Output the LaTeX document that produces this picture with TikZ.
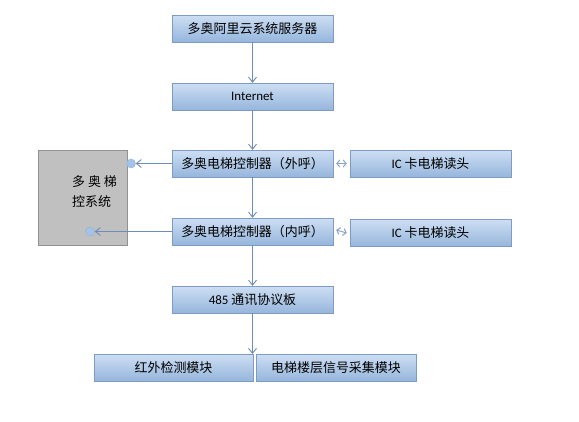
\documentclass[tikz,border=0pt]{standalone}
\usepackage{fontspec}
\setmainfont{Carlito}
\newfontfamily\cjk{Noto Sans CJK SC}
\usetikzlibrary{arrows.meta}
\definecolor{boxtop}{RGB}{205,222,243}
\definecolor{boxbot}{RGB}{150,182,220}
\definecolor{boxline}{RGB}{125,155,195}
\definecolor{arrline}{RGB}{110,140,185}
\definecolor{grayfill}{RGB}{192,192,192}
\definecolor{grayline}{RGB}{145,145,145}
\definecolor{dotfill}{RGB}{165,195,232}
\tikzset{
  blbox/.style={draw=boxline, top color=boxtop, bottom color=boxbot, minimum width=161bp, minimum height=27bp, inner sep=0pt, font=\fontsize{13}{15}\selectfont, text=black},
  arr/.style={draw=arrline, line width=0.9bp, -{Straight Barb[length=5bp,width=8bp,line width=0.9bp]}},
  darr/.style={draw=arrline!80, line width=1bp, {Straight Barb[length=3bp,width=7bp]}-{Straight Barb[length=3bp,width=7bp]}},
  dot/.style={circle, draw=arrline!70, fill=dotfill, minimum size=9bp, inner sep=0pt}
}
\begin{document}
\begin{tikzpicture}[x=1bp,y=-1bp]
\useasboundingbox[fill=white] (0,0) rectangle (579,421);
\node[blbox] (srv) at (252.5,28.5) {\cjk 多奥阿里云系统服务器};
\node[blbox] (inet) at (252.5,96.5) {Internet};
\node[blbox] (c1) at (252.5,163.5) {\cjk 多奥电梯控制器（外呼）};
\node[blbox] (ic1) at (430.5,163.5) {IC {\cjk 卡电梯读头}};
\node[blbox] (c2) at (252.5,231.5) {\cjk 多奥电梯控制器（内呼）};
\node[blbox] (ic2) at (430.5,233) {IC {\cjk 卡电梯读头}};
\node[blbox] (p485) at (252.5,299.5) {485 {\cjk 通讯协议板}};
\node[blbox, minimum width=159bp] (ir) at (173.5,367.5) {\cjk 红外检测模块};
\node[blbox, minimum width=160bp] (fl) at (336,367.5) {\cjk 电梯楼层信号采集模块};
\node[draw=grayline, fill=grayfill, minimum width=89bp, minimum height=95bp, inner sep=0pt] (sys) at (82.5,197.5) {};
\node[anchor=north west, align=left, inner sep=0pt, font=\cjk\fontsize{13}{20}\selectfont] (systxt) at (72,175) {多 奥 梯\\控系统};
\node[dot] (d1) at (131,163.5) {};
\node[dot] (d2) at (90,231.5) {};
\coordinate (bot) at (252.5,354);
\draw[arr] (srv.south) -- (inet.north);
\draw[arr] (inet.south) -- (c1.north);
\draw[arr] (c1.south) -- (c2.north);
\draw[arr] (c2.south) -- (p485.north);
\draw[arr] (p485.south) -- (bot);
\draw[arr] (c1.west) -- (d1.east);
\draw[arr] (c2.west) -- (d2.east);
\draw[darr] ([xshift=3bp]c1.east) -- ([xshift=-3bp]ic1.west);
\draw[darr] ([xshift=3bp,yshift=1.5bp]c2.east) -- ([xshift=-3bp]ic2.west);
\end{tikzpicture}
\end{document}
